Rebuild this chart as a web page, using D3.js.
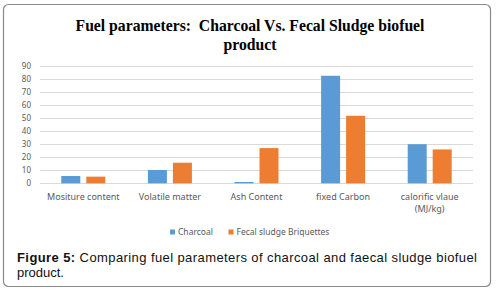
<!DOCTYPE html>
<meta charset="utf-8">
<style>
body { margin: 0; background: #fff; }
.grid line { stroke: #d9d9d9; stroke-width: 1; shape-rendering: crispEdges; }
.axis text { font: 8px "Noto Sans", sans-serif; fill: #595959; }
.cat text { font: 9px "Noto Sans", sans-serif; fill: #595959; }
.legend text { font: 8.5px "Noto Sans", sans-serif; fill: #595959; }
.title { font: bold 15.7px "Liberation Serif", serif; fill: #000; text-anchor: middle; }
.caption { font: 13px "Liberation Sans", Arial, sans-serif; fill: #111; }
</style>
<body>
<div id="chart"></div>
<script src="https://d3js.org/d3.v7.min.js"></script>
<script>

// chart values
var categories = ["Mositure content", "Volatile matter", "Ash Content", "fixed Carbon", "calorific vlaue (MJ/kg)"];
var categoryLines = [["Mositure content"], ["Volatile matter"], ["Ash Content"], ["fixed Carbon"], ["calorific vlaue", "(MJ/kg)"]];
var seriesNames = ["Charcoal", "Fecal sludge Briquettes"];
var charcoal = [5.6, 10.2, 1, 82.5, 30];
var briquettes = [5.1, 15.8, 27, 51.8, 26];
var yTicks = [0, 10, 20, 30, 40, 50, 60, 70, 80, 90];
var colors = ["#5b9bd5", "#ed7d31"];

var width = 497, height = 291;
var plot = {left: 40, right: 473, top: 66, bottom: 183.3};

var svg = d3.select("#chart").append("svg")
    .attr("width", width)
    .attr("height", height);

// outer rounded frame
svg.append("rect")
    .attr("x", 3.5).attr("y", 4.5)
    .attr("width", 487).attr("height", 282)
    .attr("rx", 5)
    .attr("fill", "#fff")
    .attr("stroke", "#8a8a8a")
    .attr("stroke-width", 1.2);

// title
svg.append("text").attr("class", "title").attr("x", 250).attr("y", 31)
    .text("Fuel parameters:\u00a0 Charcoal Vs. Fecal Sludge biofuel");
svg.append("text").attr("class", "title").attr("x", 250).attr("y", 50)
    .text("product");

var xScale0 = d3.scaleBand().domain(categories).range([plot.left, plot.right]).padding(0);
var xScale1 = d3.scaleBand().domain([0, 1]).range([0, 44]).paddingInner(0.24);
var yScale = d3.scaleLinear().domain([0, 90]).range([plot.bottom, plot.top]);

// gridlines
svg.append("g").attr("class", "grid")
  .selectAll("line")
  .data(yTicks)
  .enter().append("line")
    .attr("x1", plot.left).attr("x2", plot.right)
    .attr("y1", d => Math.round(yScale(d)) + 0.5)
    .attr("y2", d => Math.round(yScale(d)) + 0.5);

// y axis labels
var yAxis = svg.append("g").attr("class", "axis")
    .attr("transform", "translate(" + (plot.left - 9) + ",0)")
    .call(d3.axisLeft(yScale).tickValues(yTicks).tickSize(0).tickPadding(0));
yAxis.select(".domain").remove();

// bars
var rows = categories.map((c, i) => ({cat: c, vals: [charcoal[i], briquettes[i]]}));
var group = svg.selectAll(".category")
  .data(rows)
  .enter().append("g")
    .attr("class", "category")
    .attr("transform", d => "translate(" + (xScale0(d.cat) + xScale0.bandwidth() / 2 - 22) + ",0)");

group.selectAll("rect")
  .data(d => d.vals)
  .enter().append("rect")
    .attr("x", (d, i) => xScale1(i))
    .attr("y", d => yScale(d))
    .attr("width", xScale1.bandwidth())
    .attr("height", d => yScale(0) - yScale(d))
    .attr("fill", (d, i) => colors[i]);

// category labels
var cat = svg.append("g").attr("class", "cat");
categories.forEach(function(c, i) {
  var t = cat.append("text")
      .attr("text-anchor", "middle")
      .attr("x", xScale0(c) + xScale0.bandwidth() / 2)
      .attr("y", 199.5);
  categoryLines[i].forEach(function(line, j) {
    t.append("tspan")
      .attr("x", xScale0(c) + xScale0.bandwidth() / 2)
      .attr("dy", j === 0 ? 0 : 12.5)
      .text(line);
  });
});

// legend
var legendX = [170, 228.5];
var legend = svg.append("g").attr("class", "legend");
seriesNames.forEach(function(name, i) {
  legend.append("rect")
    .attr("x", legendX[i]).attr("y", 229.5)
    .attr("width", 5).attr("height", 5)
    .attr("fill", colors[i]);
  legend.append("text")
    .attr("x", legendX[i] + 8).attr("y", 235)
    .text(name);
});

// caption
var cap = svg.append("text").attr("class", "caption").attr("x", 17).attr("y", 262)
    .attr("textLength", 460).attr("lengthAdjust", "spacing");
cap.append("tspan").attr("font-weight", "bold").text("Figure 5:");
cap.append("tspan").text(" Comparing fuel parameters of charcoal and faecal sludge biofuel");
svg.append("text").attr("class", "caption").attr("x", 17).attr("y", 277).text("product.");

</script>
</body>
